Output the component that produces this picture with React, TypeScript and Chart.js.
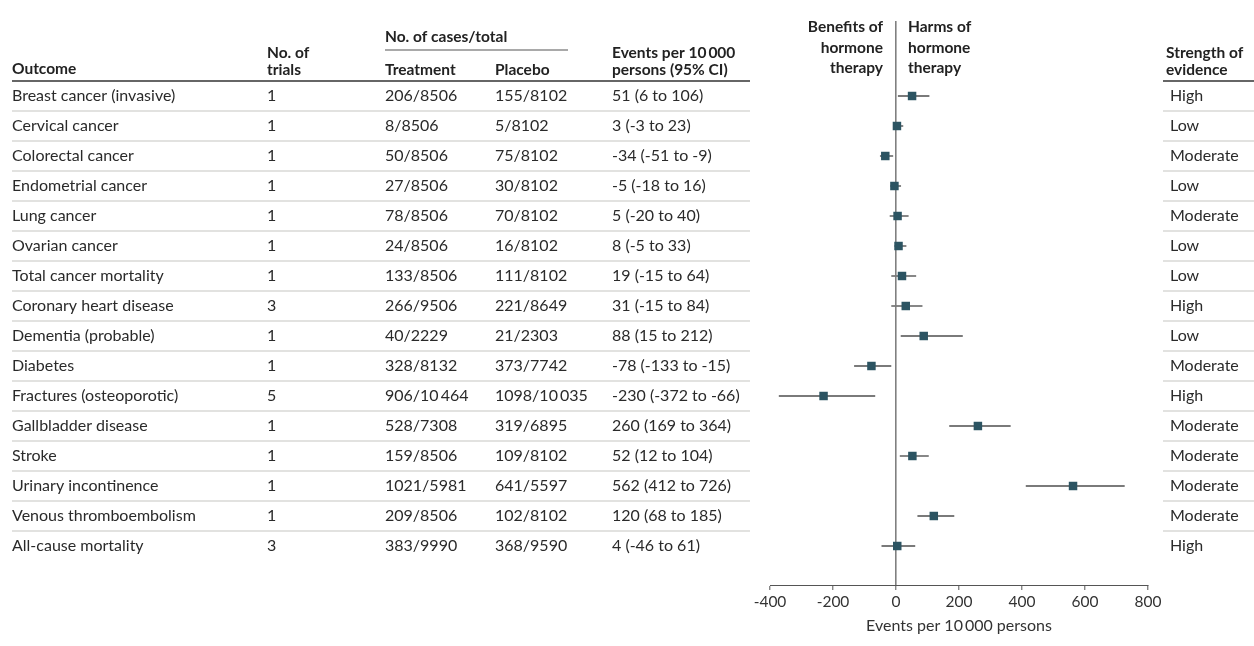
import React, { useEffect, useRef } from "react";
import { Chart, registerables } from "chart.js";

Chart.register(...registerables);

const outcomes = [
  "Breast cancer (invasive)",
  "Cervical cancer",
  "Colorectal cancer",
  "Endometrial cancer",
  "Lung cancer",
  "Ovarian cancer",
  "Total cancer mortality",
  "Coronary heart disease",
  "Dementia (probable)",
  "Diabetes",
  "Fractures (osteoporotic)",
  "Gallbladder disease",
  "Stroke",
  "Urinary incontinence",
  "Venous thromboembolism",
  "All-cause mortality",
];
const trials = ["1", "1", "1", "1", "1", "1", "1", "3", "1", "1", "5", "1", "1", "1", "1", "3"];
const treatment = [
  "206/8506", "8/8506", "50/8506", "27/8506", "78/8506", "24/8506", "133/8506", "266/9506",
  "40/2229", "328/8132", "906/10\u2009464", "528/7308", "159/8506", "1021/5981", "209/8506", "383/9990",
];
const placebo = [
  "155/8102", "5/8102", "75/8102", "30/8102", "70/8102", "16/8102", "111/8102", "221/8649",
  "21/2303", "373/7742", "1098/10\u2009035", "319/6895", "109/8102", "641/5597", "102/8102", "368/9590",
];
const estimate = [51, 3, -34, -5, 5, 8, 19, 31, 88, -78, -230, 260, 52, 562, 120, 4];
const lower = [6, -3, -51, -18, -20, -5, -15, -15, 15, -133, -372, 169, 12, 412, 68, -46];
const upper = [106, 23, -9, 16, 40, 33, 64, 84, 212, -15, -66, 364, 104, 726, 185, 61];
const strength = [
  "High", "Low", "Moderate", "Low", "Moderate", "Low", "Low", "High",
  "Low", "Moderate", "High", "Moderate", "Moderate", "Moderate", "Moderate", "High",
];
const xTicks = [-400, -200, 0, 200, 400, 600, 800];

const FONT = "Lato, 'DejaVu Sans', sans-serif";

function fmtCI(i: number) {
  return `${estimate[i]} (${lower[i]} to ${upper[i]})`;
}

const tablePlugin = {
  id: "tablePlugin",
  afterDraw(chart: any) {
    const ctx = chart.ctx as CanvasRenderingContext2D;
    const y = chart.scales.y;
    const n = outcomes.length;
    ctx.save();
    ctx.textBaseline = "middle";

    // header text
    ctx.fillStyle = "#222";
    ctx.font = `bold 15.5px ${FONT}`;
    ctx.textAlign = "left";
    ctx.fillText("Outcome", 12, 69);
    ctx.fillText("No. of", 267, 53);
    ctx.fillText("trials", 267, 70);
    ctx.fillText("No. of cases/total", 385, 37);
    ctx.fillText("Treatment", 385, 70);
    ctx.fillText("Placebo", 495, 70);
    ctx.fillText("Events per 10\u2009000", 612, 53);
    ctx.fillText("persons (95% CI)", 612, 70);
    ctx.fillText("Strength of", 1166, 53);
    ctx.fillText("evidence", 1166, 70);
    ctx.textAlign = "right";
    ctx.fillText("Benefits of", 883, 27);
    ctx.fillText("hormone", 883, 48);
    ctx.fillText("therapy", 883, 68);
    ctx.textAlign = "left";
    ctx.fillText("Harms of", 908, 27);
    ctx.fillText("hormone", 908, 48);
    ctx.fillText("therapy", 908, 68);

    // cases/total underline
    ctx.strokeStyle = "#555";
    ctx.lineWidth = 1.2;
    ctx.beginPath();
    ctx.moveTo(385, 50);
    ctx.lineTo(568, 50);
    ctx.stroke();

    // header bottom line
    const hy = y.getPixelForValue(-0.5);
    ctx.strokeStyle = "#666";
    ctx.lineWidth = 2;
    ctx.beginPath();
    ctx.moveTo(12, hy);
    ctx.lineTo(750, hy);
    ctx.moveTo(1163, hy);
    ctx.lineTo(1254, hy);
    ctx.stroke();

    // row separators
    ctx.strokeStyle = "#d9d9d6";
    ctx.lineWidth = 1.5;
    ctx.beginPath();
    for (let i = 0; i < n - 1; i++) {
      const sy = y.getPixelForValue(i + 0.5);
      ctx.moveTo(12, sy);
      ctx.lineTo(750, sy);
      ctx.moveTo(1163, sy);
      ctx.lineTo(1254, sy);
    }
    ctx.stroke();

    // row text
    ctx.fillStyle = "#2a2a2a";
    ctx.font = `16px ${FONT}`;
    ctx.textAlign = "left";
    for (let i = 0; i < n; i++) {
      const cy = y.getPixelForValue(i);
      ctx.fillText(outcomes[i], 12, cy);
      ctx.fillText(trials[i], 267, cy);
      ctx.fillText(treatment[i], 385, cy);
      ctx.fillText(placebo[i], 495, cy);
      ctx.fillText(fmtCI(i), 612, cy);
      ctx.fillText(strength[i], 1170, cy);
    }
    ctx.restore();
  },
};

export default function App() {
  const ref = useRef<HTMLCanvasElement | null>(null);
  useEffect(() => {
    if (!ref.current) return;
    const ciSets = outcomes.map((_, i) => ({
      type: "scatter" as const,
      data: [
        { x: lower[i], y: i },
        { x: upper[i], y: i },
      ],
      showLine: true,
      borderColor: "#7a7a7a",
      borderWidth: 1.8,
      pointRadius: 0,
      pointHoverRadius: 0,
    }));
    const chart = new Chart(ref.current, {
      type: "scatter",
      data: {
        datasets: [
          {
            data: estimate.map((v, i) => ({ x: v, y: i })),
            pointStyle: "rect",
            pointRadius: 6,
            backgroundColor: "#2c5462",
            borderWidth: 0,
          } as any,
          ...ciSets,
        ],
      },
      options: {
        animation: false,
        responsive: true,
        maintainAspectRatio: false,
        layout: { padding: { left: 770, right: 106, top: 21, bottom: 0 } },
        plugins: { legend: { display: false }, tooltip: { enabled: false } },
        scales: {
          x: {
            type: "linear",
            min: -400,
            max: 800,
            afterBuildTicks: (s: any) => {
              s.ticks = xTicks.map((v) => ({ value: v }));
            },
            afterFit: (s: any) => {
              s.height = 61;
            },
            ticks: {
              color: "#333",
              font: { family: FONT, size: 15.5 },
              padding: 3,
              callback: (v: any) => String(v),
            },
            grid: {
              color: (c: any) => (c.tick && c.tick.value === 0 ? "#808080" : "rgba(0,0,0,0)"),
              lineWidth: 1.6,
              tickColor: "#555",
              tickLength: 5,
              tickWidth: 1,
            },
            border: { display: true, color: "#555", width: 1 },
            title: {
              display: true,
              text: "Events per 10\u2009000 persons",
              color: "#333",
              font: { family: FONT, size: 16 },
              padding: { top: 0, bottom: 11 },
            },
          },
          y: {
            type: "linear",
            reverse: true,
            min: -2.5,
            max: 16.3,
            display: false,
          },
        },
      },
      plugins: [tablePlugin],
    });
    return () => chart.destroy();
  }, []);
  return (
    <div style={{ position: "fixed", left: 0, top: 0, width: 1254, height: 646, background: "#fff" }}>
      <canvas ref={ref} />
    </div>
  );
}
